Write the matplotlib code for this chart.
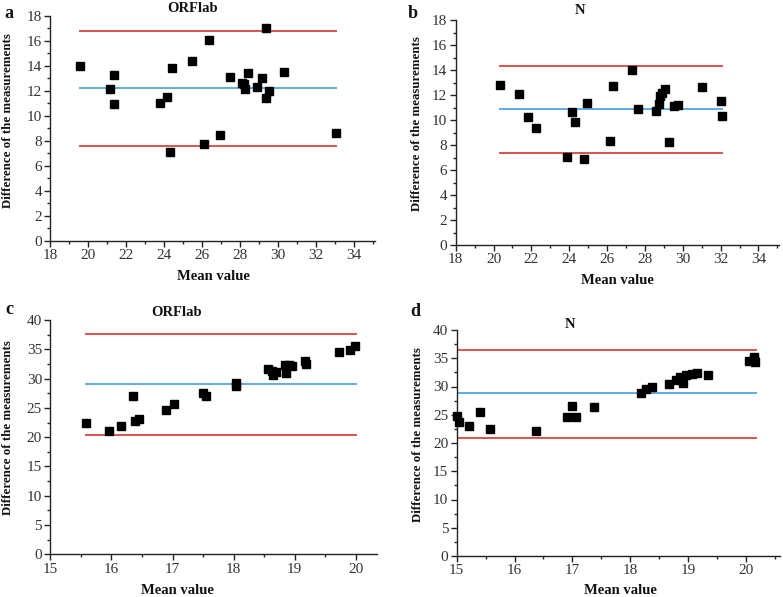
import numpy as np
import matplotlib
matplotlib.use("Agg")
import matplotlib.pyplot as plt
from matplotlib.ticker import MultipleLocator

plt.rcParams['font.family'] = ['Liberation Serif', 'DejaVu Serif']

# panel a - ORFlab
a_x = [19.58, 21.15, 21.37, 21.34, 23.80, 24.16, 24.41, 24.31, 25.47, 26.08, 26.35, 26.93,
       27.48, 28.10, 28.21, 28.26, 28.42, 28.91, 29.15, 29.35, 29.38, 29.51, 30.33, 33.07]
a_y = [13.98, 12.14, 13.31, 10.96, 11.04, 11.55, 13.84, 7.07, 14.40, 7.71, 16.06, 8.48,
       13.12, 12.67, 12.59, 12.16, 13.47, 12.35, 13.07, 17.07, 11.42, 11.98, 13.55, 8.59]
a_lines = [16.78, 12.22, 7.58]

# panel b - N
b_x = [20.35, 21.34, 21.84, 22.22, 23.90, 24.13, 24.31, 24.76, 24.93, 26.13, 26.31, 27.29, 27.62,
       28.57, 28.76, 28.81, 28.90, 29.07, 29.25, 29.53, 29.76, 30.99, 32.02, 32.05]
b_y = [12.80, 12.11, 10.22, 9.39, 7.07, 10.61, 9.84, 6.90, 11.40, 8.35, 12.75, 13.97, 10.88,
       10.72, 11.25, 11.95, 12.19, 12.48, 8.21, 11.15, 11.20, 12.64, 11.52, 10.32]
b_lines = [14.30, 10.88, 7.36]

# panel c - ORFlab
c_x = [15.59, 15.96, 16.16, 16.35, 16.39, 16.45, 16.89, 17.02, 17.50, 17.54, 18.03, 18.03,
       18.56, 18.63, 18.64, 18.69, 18.84, 18.86, 18.91, 18.96, 19.17, 19.18, 19.72, 19.91, 19.99]
c_y = [22.36, 21.05, 21.95, 26.97, 22.75, 23.04, 24.69, 25.71, 27.53, 27.02, 29.24, 28.80,
       31.57, 31.28, 30.66, 31.12, 32.26, 31.00, 32.31, 32.14, 32.94, 32.54, 34.59, 34.82, 35.60]
c_lines = [37.60, 29.02, 20.37]

# panel d - N
d_x = [15.00, 15.04, 15.21, 15.40, 15.58, 16.37, 16.91, 17.00, 17.07, 17.38, 18.18, 18.27,
       18.37, 18.67, 18.79, 18.86, 18.92, 18.97, 19.06, 19.15, 19.34, 20.05, 20.14, 20.15, 20.14]
d_y = [24.70, 23.77, 22.95, 25.54, 22.53, 22.12, 24.60, 26.55, 24.60, 26.43, 28.90, 29.50,
       29.86, 30.50, 31.20, 31.68, 30.68, 31.98, 32.20, 32.44, 32.09, 34.51, 35.27, 34.34, 34.90]
d_lines = [36.46, 28.85, 20.83]

W, H = 783, 597
fig = plt.figure(figsize=(W / 100, H / 100), dpi=100)

RED = '#d9534f'
BLUE = '#5aaee6'
GREY = '#333333'


def px(x0, y0, x1, y1):
    # pixel box -> figure fraction rect
    return [x0 / W, 1 - y1 / H, (x1 - x0) / W, (y1 - y0) / H]


def panel(rect, xs, ys, lines, xlim, ylim, xmaj, xmin, ymaj, ymin, xline_end=None):
    ax = fig.add_axes(rect)
    x0 = xs[0] if xline_end is None else xline_end[0]
    x1 = max(xs) if xline_end is None else xline_end[1]
    for v, c in zip(lines, [RED, BLUE, RED]):
        ax.plot([x0, x1], [v, v], color=c, lw=1.4, zorder=1)
    ax.plot(xs, ys, 's', color='black', ms=5.8, zorder=3, clip_on=False)
    ax.set_xlim(*xlim)
    ax.set_ylim(*ylim)
    ax.xaxis.set_major_locator(MultipleLocator(xmaj))
    ax.xaxis.set_minor_locator(MultipleLocator(xmin))
    ax.yaxis.set_major_locator(MultipleLocator(ymaj))
    ax.yaxis.set_minor_locator(MultipleLocator(ymin))
    for s in ['top', 'right']:
        ax.spines[s].set_visible(False)
    for s in ['left', 'bottom']:
        ax.spines[s].set_color('#222222')
        ax.spines[s].set_linewidth(1.0)
    ax.tick_params(which='major', direction='out', length=4, width=1, colors='#222222',
                   labelsize=11, labelcolor=GREY, pad=2)
    ax.tick_params(which='minor', direction='out', length=2, width=1, colors='#222222')
    return ax


def ftext(x, y, s, **kw):
    fig.text(x / W, 1 - y / H, s, ha='center', va='center', **kw)


panel(px(50.3, 16, 375, 240.7), a_x, a_y, a_lines, (18, 35.1), (0, 18), 2, 1, 2, 1)
panel(px(455.7, 20, 779.3, 245), b_x, b_y, b_lines, (18, 35.1), (0, 18), 2, 1, 2, 1,
      xline_end=(20.35, 32.07))
panel(px(50.3, 320, 376.7, 554.3), c_x, c_y, c_lines, (15, 20.34), (0, 40), 1, 0.5, 5, 2.5,
      xline_end=(15.58, 20.0))
panel(px(456.7, 330, 780, 556), d_x, d_y, d_lines, (15, 20.59), (0, 40), 1, 0.5, 5, 2.5,
      xline_end=(15.0, 20.17))

bold = dict(fontweight='bold', color='#111111')
ftext(9, 13, 'a', fontsize=13, **bold)
ftext(413, 13, 'b', fontsize=13, **bold)
ftext(9, 310, 'c', fontsize=13, **bold)
ftext(415, 311, 'd', fontsize=13, **bold)

ftext(193, 8, 'ORFlab', fontsize=10.5, **bold)
ftext(580, 11, 'N', fontsize=10.5, **bold)
ftext(177, 313, 'ORFlab', fontsize=10.5, **bold)
ftext(570, 324, 'N', fontsize=10.5, **bold)

ylab = 'Difference of the measurements'
ftext(8, 121, ylab, fontsize=9.3, rotation=90, **bold)
ftext(417, 124, ylab, fontsize=9.3, rotation=90, **bold)
ftext(8, 428, ylab, fontsize=9.3, rotation=90, **bold)
ftext(418, 435, ylab, fontsize=9.3, rotation=90, **bold)

ftext(213, 277, 'Mean value', fontsize=10.5, **bold)
ftext(617, 281, 'Mean value', fontsize=10.5, **bold)
ftext(177, 590, 'Mean value', fontsize=10.5, **bold)
ftext(620, 590, 'Mean value', fontsize=10.5, **bold)

fig.savefig('out.png', dpi=100)
